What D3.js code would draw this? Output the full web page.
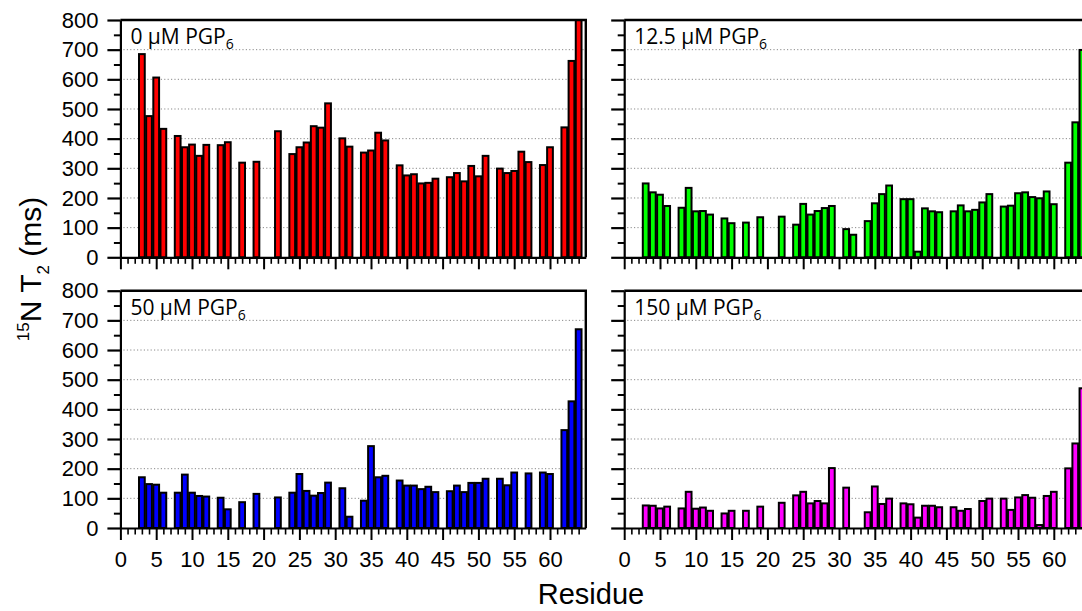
<!DOCTYPE html>
<html><head><meta charset="utf-8">
<script src="https://cdn.jsdelivr.net/npm/d3@7"></script>
<style>
html,body{margin:0;padding:0;background:#fff;}
svg{display:block;}
</style></head>
<body><svg id="c" width="1082" height="611"></svg>
<script>
// residues 1..64 (null = no data)
const residues = d3.range(1, 65);
const t2_0uM = [null,null,685,476,606,433,null,409,371,380,342,379,null,378,388,null,319,null,322,null,null,425,null,348,371,387,442,437,519,null,401,373,null,353,360,420,394,null,310,276,280,249,251,265,null,270,284,256,308,273,342,null,299,284,291,356,321,null,311,371,null,438,662,800];
const t2_12uM = [null,null,249,219,211,173,null,167,234,155,156,144,null,131,115,null,117,null,135,null,null,137,null,110,180,144,156,166,173,null,95,76,null,122,182,213,242,null,196,196,19,165,155,152,null,155,175,155,160,185,213,null,171,174,216,219,203,199,222,179,null,319,455,699];
const t2_50uM = [null,null,171,148,146,119,null,119,180,119,108,106,null,102,63,null,87,null,115,null,null,103,null,119,182,125,109,118,153,null,134,38,null,92,276,171,176,null,160,143,143,131,139,121,null,124,143,121,152,152,166,null,166,144,187,null,184,null,187,182,null,330,427,670];
const t2_150uM = [null,null,76,75,66,72,null,66,122,65,69,58,null,49,58,null,58,null,72,null,null,85,null,110,122,83,91,83,202,null,136,null,null,53,140,81,99,null,83,80,35,75,75,70,null,70,58,64,null,91,99,null,99,61,103,111,102,10,108,122,null,201,285,471];
const panelLabels = ["0 \u03bcM PGP", "12.5 \u03bcM PGP", "50 \u03bcM PGP", "150 \u03bcM PGP"];
const labelSub = "6";
const colors = ["#ff0000", "#00ff00", "#0000ff", "#ff00ff"];
const yTicks = [0,100,200,300,400,500,600,700,800];
const yMinor = [50,150,250,350,450,550,650,750];
const xTicks = [0,5,10,15,20,25,30,35,40,45,50,55,60];
const gridVals = [100,200,300,400,500,600,700];

const svg = d3.select("#c");
const PW = 465.4;
const layouts = [
  {x0:120.4, yTop:20, yBot:257.3, yLab:true, xLab:false, vals:t2_0uM},
  {x0:624.2, yTop:20, yBot:257.3, yLab:false, xLab:false, vals:t2_12uM},
  {x0:120.4, yTop:290.7, yBot:528, yLab:true, xLab:true, vals:t2_50uM},
  {x0:624.2, yTop:290.7, yBot:528, yLab:false, xLab:true, vals:t2_150uM}
];
const FONT = "'Liberation Sans', Arial, sans-serif";

layouts.forEach((L, i) => {
  const x = d3.scaleLinear().domain([0,65]).range([L.x0, L.x0+PW]);
  const y = d3.scaleLinear().domain([0,800]).range([L.yBot, L.yTop]);
  const g = svg.append("g");
  const step = x(1)-x(0);
  // grid
  g.selectAll("line.grid").data(gridVals).enter().append("line")
    .attr("x1", x(0)+3).attr("x2", x(65)-2)
    .attr("y1", d=>y(d)).attr("y2", d=>y(d))
    .attr("stroke", "#8a8a8a").attr("stroke-width", 1).attr("stroke-dasharray", "1.2,2.2");
  // bars
  const data = residues.map((r,k)=>({r, v:L.vals[k]})).filter(d=>d.v!=null);
  g.selectAll("rect.bar").data(data).enter().append("rect")
    .attr("x", d=>x(d.r)-(step-1.4)/2)
    .attr("width", step-1.4)
    .attr("y", d=>y(d.v))
    .attr("height", d=>y(0)-y(d.v))
    .attr("fill", colors[i]).attr("stroke", "#000").attr("stroke-width", 2);
  // y axis minor
  const ym = g.append("g").attr("transform", `translate(${L.x0},0)`)
    .call(d3.axisLeft(y).tickValues(yMinor).tickSize(6.5).tickSizeOuter(0).tickFormat(""));
  ym.select(".domain").remove();
  ym.selectAll("line").attr("stroke-width", 2);
  const ya = g.append("g").attr("transform", `translate(${L.x0},0)`)
    .call(d3.axisLeft(y).tickValues(yTicks).tickSize(13).tickSizeOuter(0).tickPadding(9)
      .tickFormat(L.yLab ? d3.format("d") : ""));
  ya.select(".domain").attr("stroke-width", 2.2);
  ya.selectAll("line").attr("stroke-width", 2.2);
  ya.selectAll("text").attr("font-family", FONT).attr("font-size", 22).attr("fill","#000");
  // x axis
  const xm = g.append("g").attr("transform", `translate(0,${L.yBot})`)
    .call(d3.axisBottom(x).tickValues(d3.range(1,65).filter(v=>v%5!==0)).tickSize(6.5).tickSizeOuter(0).tickFormat(""));
  xm.select(".domain").remove();
  xm.selectAll("line").attr("stroke-width", 1.6);
  const xa = g.append("g").attr("transform", `translate(0,${L.yBot})`)
    .call(d3.axisBottom(x).tickValues(xTicks).tickSize(12).tickSizeOuter(0).tickPadding(11)
      .tickFormat(L.xLab ? d3.format("d") : ""));
  xa.select(".domain").attr("stroke-width", 2.2);
  xa.selectAll("line").attr("stroke-width", 2);
  xa.selectAll("text").attr("font-family", FONT).attr("font-size", 22).attr("fill","#000");
  // frame
  g.append("path")
    .attr("d", `M${x(0)},${L.yTop}H${x(65)}V${L.yBot}`)
    .attr("fill","none").attr("stroke","#000").attr("stroke-width",2.4);
  // panel label
  const t = g.append("text").attr("x", L.x0+10).attr("y", L.yTop+24)
    .attr("font-family", "'Open Sans', 'Noto Sans', sans-serif").attr("font-size", 21).attr("fill","#000");
  t.append("tspan").text(panelLabels[i]);
  t.append("tspan").attr("font-size", 14).attr("dy", 5).text(labelSub);
});

// axis titles
svg.append("text").attr("x", 591).attr("y", 604).attr("text-anchor","middle")
  .attr("font-family", FONT).attr("font-size", 29).attr("fill","#000").text("Residue");
const yt = svg.append("text").attr("transform","translate(41,269) rotate(-90)")
  .attr("text-anchor","middle").attr("font-family", FONT).attr("font-size", 30).attr("fill","#000");
yt.append("tspan").attr("font-size", 17).attr("dy", -12).text("15");
yt.append("tspan").attr("dy", 12).text("N T");
yt.append("tspan").attr("font-size", 17).attr("dy", 8).text("2");
yt.append("tspan").attr("dy", -8).text(" (ms)");
</script></body></html>
